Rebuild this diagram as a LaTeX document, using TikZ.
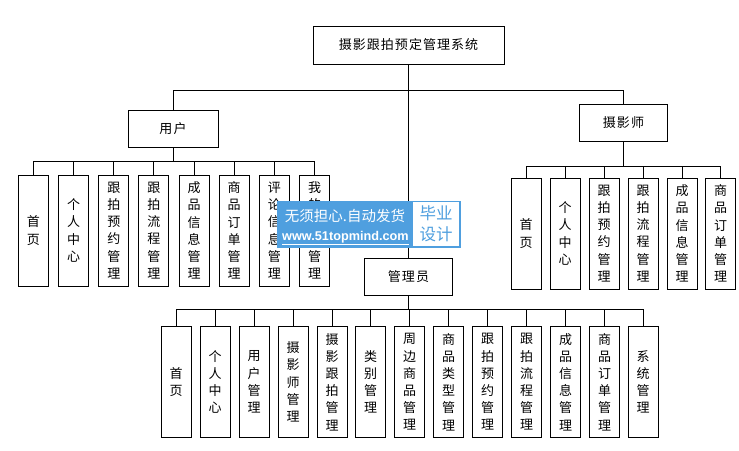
\documentclass[tikz,border=0pt]{standalone}
\usepackage{fontspec}
\setmainfont[LetterSpace=8]{Noto Sans CJK SC}
\newfontfamily\webfont{Liberation Sans}
\newfontfamily\bannerfont{Noto Sans CJK SC}
\definecolor{bannerblue}{HTML}{4F9FDF}
\tikzset{
  box/.style={draw=black, line width=1pt, inner sep=0pt, minimum width=88, minimum height=37, font=\fontsize{13}{17}\selectfont},
  leaf/.style={draw=black, line width=1pt, inner sep=0pt, minimum width=30, minimum height=111, align=center, font=\fontsize{13}{17.2}\selectfont},
  link/.style={draw=black, line width=1pt},
}
\begin{document}
\begin{tikzpicture}[x=1pt,y=-1pt]
\useasboundingbox (0,0) rectangle (739,450);
% top level
\node[box, minimum width=191, minimum height=38] (title) at (408.5,45) {摄影跟拍预定管理系统};
\node[box, minimum width=90] (user) at (173,128.5) {用户};
\node[box] (shooter) at (623.5,122.5) {摄影师};
\node[box] (admin) at (408.5,277) {管理员};
\coordinate (rolebus) at (408.5,90);
\coordinate (userbus) at (173,161);
\coordinate (shooterbus) at (623.5,166);
\coordinate (adminbus) at (408.5,309);
\draw[link] (title) -- (admin);
\draw[link] (rolebus) -| (user);
\draw[link] (rolebus) -| (shooter);
\draw[link] (user) -- (userbus);
\draw[link] (shooter) -- (shooterbus);
\draw[link] (admin) -- (adminbus);
% user pages
\foreach \i/\x/\txt in {1/33.5/{首\\页},2/73.7/{个\\人\\中\\心},3/113.8/{跟\\拍\\预\\约\\管\\理},4/153.9/{跟\\拍\\流\\程\\管\\理},5/194/{成\\品\\信\\息\\管\\理},6/234.2/{商\\品\\订\\单\\管\\理},7/274.3/{评\\论\\信\\息\\管\\理},8/314.5/{我\\的\\~\\~\\管\\理}} {
  \node[leaf] (u\i) at (\x,230.5) {\txt};
  \draw[link] (userbus) -| (u\i.north);
}
% photographer pages
\foreach \i/\x/\txt in {1/526/{首\\页},2/565/{个\\人\\中\\心},3/604/{跟\\拍\\预\\约\\管\\理},4/643/{跟\\拍\\流\\程\\管\\理},5/682/{成\\品\\信\\息\\管\\理},6/720.5/{商\\品\\订\\单\\管\\理}} {
  \node[leaf] (p\i) at (\x,233.5) {\txt};
  \draw[link] (shooterbus) -| (p\i.north);
}
% admin pages
\foreach \i/\x/\txt in {1/176/{首\\页},2/215/{个\\人\\中\\心},3/254/{用\\户\\管\\理},4/293/{摄\\影\\师\\管\\理},5/332/{摄\\影\\跟\\拍\\管\\理},6/370.5/{类\\别\\管\\理},7/409.5/{周\\边\\商\\品\\管\\理},8/448.5/{商\\品\\类\\型\\管\\理},9/487.5/{跟\\拍\\预\\约\\管\\理},10/526.5/{跟\\拍\\流\\程\\管\\理},11/565.5/{成\\品\\信\\息\\管\\理},12/604.5/{商\\品\\订\\单\\管\\理},13/643/{系\\统\\管\\理}} {
  \node[leaf] (a\i) at (\x,382) {\txt};
  \draw[link] (adminbus) -| (a\i.north);
}
% banner on top
\node[fill=bannerblue, inner sep=0pt, minimum width=184, minimum height=47] (banner) at (369,224.5) {};
\node[fill=white, inner sep=0pt, minimum width=46, minimum height=44] (badge) at (436,224) {};
\node[text=bannerblue, align=center, font=\bannerfont\fontsize{16.5}{21}\selectfont] (badgetext) at (badge) {毕业\\设计};
\node[text=white, font=\bannerfont\fontsize{14.5}{16}\selectfont] (slogan) at (345,216) {无须担心.自动发货};
\node[text=white, font=\webfont\bfseries\fontsize{12.7}{16}\selectfont] (site) at (345.5,238) {\underline{www.51topmind.com}};
\end{tikzpicture}
\end{document}
